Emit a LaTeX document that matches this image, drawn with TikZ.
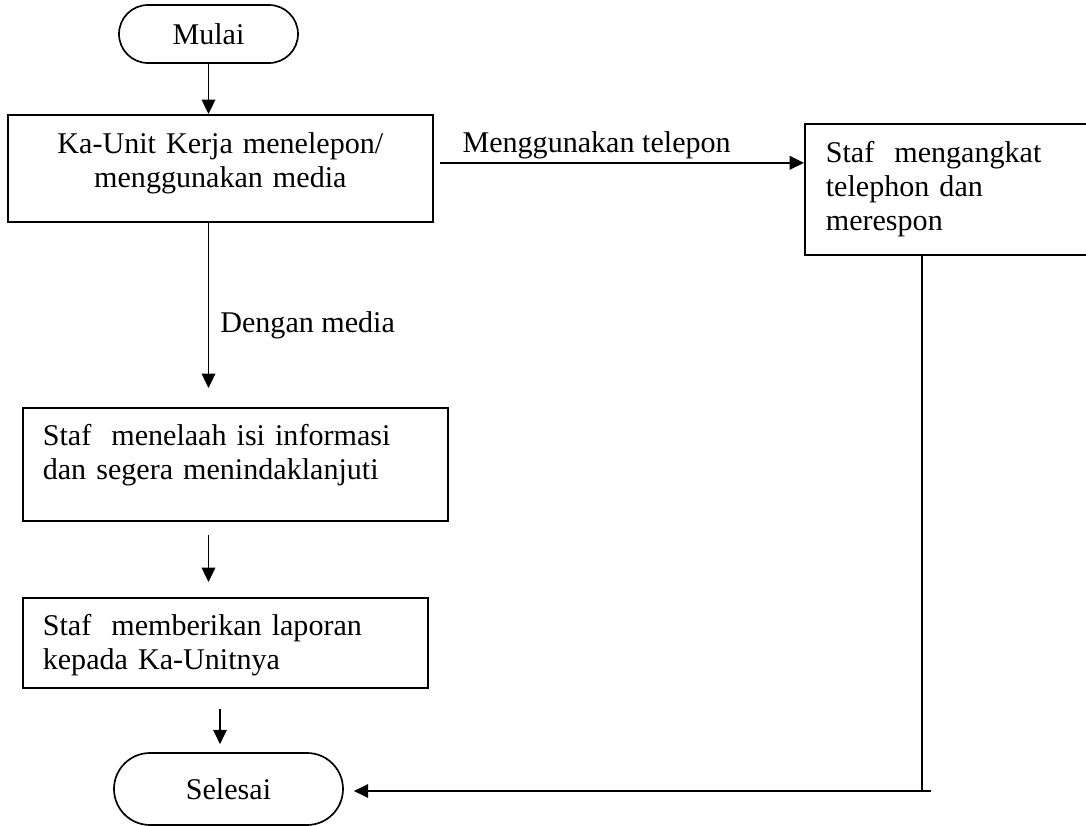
\documentclass[tikz,border=0pt]{standalone}
\usepackage{fontspec}
\setmainfont{Liberation Serif}
\usetikzlibrary{arrows.meta}

\begin{document}
\begin{tikzpicture}[
    font=\fontsize{21.4}{24}\selectfont,
    line width=1.2pt,
    box/.style={draw,inner ysep=0pt,anchor=north west},
    term/.style={draw,inner sep=0pt},
    arrow/.style={-{Triangle[length=0.36cm,width=0.34cm]}},
    lbl/.style={inner sep=0pt,anchor=base west}]
    \useasboundingbox (0,0) rectangle (27.15,-20.65);
    \clip (0,0) rectangle (27.15,-20.65);

    \coordinate (A) at (0.175,-2.85);
    \coordinate (B) at (20.1,-3.075);
    \coordinate (C) at (0.55,-10.175);
    \coordinate (D) at (0.55,-14.925);
    \coordinate (T) at (23.05,-19.775);
    \coordinate (U) at (23.275,-19.775);

    \node[term,minimum width=4.475cm,minimum height=1.45cm,rounded corners=0.725cm] (mulai) at (5.2125,-0.85) {Mulai};
    \node[box,inner xsep=0pt,text width=10.625cm,align=center,text height=0.975cm,text depth=1.7cm] (kaunit) at (A) {Ka-Unit Kerja menelepon/\\menggunakan media};
    \node[box,inner xsep=0.525cm,text width=6.35cm,align=left,text height=0.975cm,text depth=2.3cm] (telepon) at (B) {Staf~ mengangkat\\telephon dan\\merespon};
    \node[box,inner xsep=0.5cm,text width=9.625cm,align=left,text height=0.95cm,text depth=1.875cm] (telaah) at (C) {Staf~ menelaah isi informasi\\dan segera menindaklanjuti};
    \node[box,inner xsep=0.5cm,text width=9.125cm,align=left,text height=0.95cm,text depth=1.3cm] (laporan) at (D) {Staf~ memberikan laporan\\kepada Ka-Unitnya};
    \node[term,minimum width=5.725cm,minimum height=1.8cm,rounded corners=0.9cm] (selesai) at (5.7125,-19.725) {Selesai};
    \coordinate (E) at ([xshift=-0.2125cm]selesai.north);

    \draw[arrow] (mulai.south) -- (mulai.south |- kaunit.north);
    \draw[arrow,shorten >=0.475cm] (mulai.south |- kaunit.south) -- node[lbl,pos=0.597,xshift=0.275cm] {Dengan media} (mulai.south |- telaah.north);
    \draw[arrow,shorten <=0.325cm,shorten >=0.375cm] (mulai.south |- telaah.south) -- (mulai.south |- laporan.north);
    \draw[arrow,shorten <=0.5cm,shorten >=0.2cm] (E |- laporan.south) -- (E);
    \draw[arrow,shorten <=0.15cm] (kaunit.east |- telepon.base west) -- node[lbl,pos=0,xshift=0.7cm,yshift=0.25cm] {Menggunakan telepon} (telepon.base west);
    \draw (telepon.south -| T) -- (T);
    \draw[arrow,shorten >=0.25cm] (U) -- (U -| selesai.east);
\end{tikzpicture}
\end{document}
